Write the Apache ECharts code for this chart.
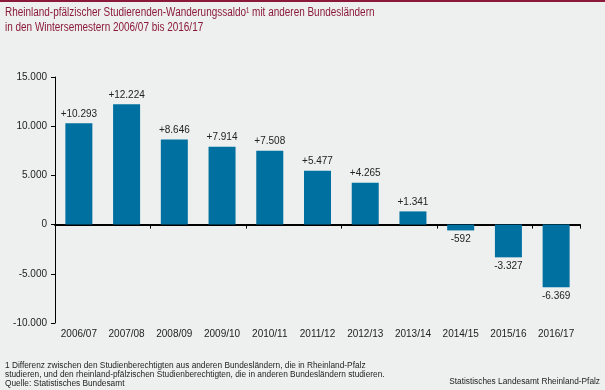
<!DOCTYPE html>
<html><head><meta charset="utf-8">
<script src="https://cdn.jsdelivr.net/npm/echarts@6/dist/echarts.min.js"></script>
<style>
html,body{margin:0;padding:0;background:#eef0ef;}
#c{width:605px;height:390px;}
</style></head><body><div id="c"></div>
<script>
const categories = ["2006/07","2007/08","2008/09","2009/10","2010/11","2011/12","2012/13","2013/14","2014/15","2015/16","2016/17"];
const values = [10293, 12224, 8646, 7914, 7508, 5477, 4265, 1341, -592, -3327, -6369];
const yTicks = {min: -10000, max: 15000, interval: 5000};

function sep(n){ return Math.abs(n).toString().replace(/\B(?=(\d{3})+(?!\d))/g, "."); }
function fmt(v){ return v > 0 ? "+" + sep(v) : (v < 0 ? "-" + sep(v) : "0"); }
const font = "Liberation Sans, Arial, sans-serif";
const chart = echarts.init(document.getElementById('c'), null, {renderer:'canvas'});
chart.setOption({
  backgroundColor: '#eef0ef',
  animation: false,
  graphic: [
    {type:'rect', left:0, top:0, shape:{width:605, height:2}, style:{fill:'#8b1a3a'}},
    {type:'text', x:5, y:5, scaleX:0.83, style:{text:'Rheinland-pfälzischer Studierenden-Wanderungssaldo¹ mit anderen Bundesländern\nin den Wintersemestern 2006/07 bis 2016/17', fill:'#8b1a3a', font:'12px ' + font, lineHeight:15}},
    {type:'text', left:5, top:361, style:{text:'1 Differenz zwischen den Studienberechtigten aus anderen Bundesländern, die in Rheinland-Pfalz\nstudieren, und den rheinland-pfälzischen Studienberechtigten, die in anderen Bundesländern studieren.\nQuelle: Statistisches Bundesamt', fill:'#222', font:'8.3px ' + font, lineHeight:9}},
    {type:'text', right:5, top:378, style:{text:'Statistisches Landesamt Rheinland-Pfalz', fill:'#222', font:'8.3px ' + font, align:'right'}}
  ],
  grid: {left:55, right:25, top:77, bottom:67, containLabel:false},
  xAxis: [
    {type:'category', data:categories, position:'bottom',
     axisLine:{onZero:true, lineStyle:{color:'#000', width:2}},
     axisTick:{show:true, length:4, lineStyle:{color:'#000', width:1}},
     axisLabel:{show:false}},
    {type:'category', data:categories, position:'bottom',
     axisLine:{show:false, onZero:false}, axisTick:{show:false},
     axisLabel:{show:true, color:'#222', fontSize:10, fontFamily:font, margin:6, interval:0}}
  ],
  yAxis: {type:'value', min:yTicks.min, max:yTicks.max, interval:yTicks.interval,
    axisLine:{show:true, lineStyle:{color:'#000', width:1}},
    axisTick:{show:true, length:4, lineStyle:{color:'#000'}},
    splitLine:{show:false},
    axisLabel:{color:'#222', fontSize:10, fontFamily:font, margin:8,
      formatter: v => (v<0?'-':'') + sep(v)}},
  series: [{
    type:'bar', xAxisIndex:0, barWidth:27,
    itemStyle:{color:'#0070a0'},
    data: values.map(v => ({value:v, label:{position: v>=0 ? 'top' : 'bottom'}})),
    label:{show:true, color:'#222', fontSize:10, fontFamily:font, distance:4,
      formatter: p => fmt(p.value)}
  }]
});
</script></body></html>
